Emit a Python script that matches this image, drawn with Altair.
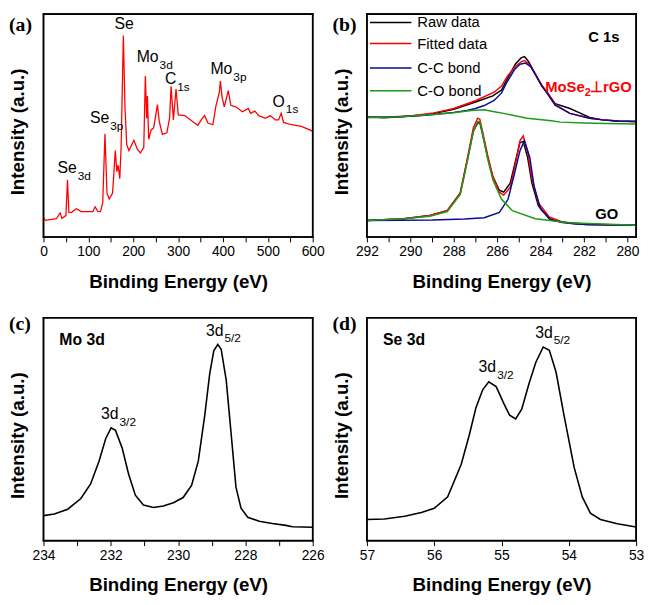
import altair as alt
import pandas as pd

FONT = "Liberation Sans"
W, H = 273, 226
YDOM = [0, 229]

# ---------------- Panel (a): survey spectrum ----------------
a_E = [0, 4, 29, 37, 41, 50, 53.5, 56.5, 62, 73, 84, 110, 115, 121, 127, 132, 137, 141.5, 146.5,
       154, 160, 163.5, 166.4, 170, 173, 178, 181.7, 185.5, 190.5, 201.5, 209, 216, 223.5, 227, 230,
       231.6, 234.5, 240, 245.5, 254, 258, 265, 275, 281, 284.4, 289.5, 295.4, 300.4, 315, 330, 344,
       351.6, 359, 366.4, 377.4, 384.6, 392, 394.3, 398, 403, 411.8, 417.6, 428.6, 443.3, 456.5,
       461.6, 471, 480, 494.5, 505.5, 516.5, 524, 529.7, 535, 553, 575, 597, 600]
a_I = [20.3, 17, 18.7, 24.7, 19.3, 22, 58.7, 25.3, 25, 29, 26, 26, 31, 26.3, 26, 35, 106, 45, 39,
       45, 88.7, 67, 73.7, 60, 92, 207, 132, 95, 88.7, 99.3, 90.3, 86.3, 92, 165.3, 122,
       144.7, 100.3, 110, 112, 136, 118.7, 105.3, 107, 122, 154.7, 120.3, 152, 125.3, 124.7, 119.3, 114.7,
       120.3, 124.7, 117, 115.3, 135.3, 148.7, 160.3, 143.7, 133.7, 150.3, 135.3, 133.7, 128.7, 132,
       127, 129.3, 124.7, 122, 124.7, 120.3, 120.3, 127, 117.7, 115.3, 113.7, 109.3, 108]

a_lab_main = ["Se", "Se", "Mo", "C", "Mo", "O"]
a_lab_E = [74, 146.6, 256.5, 296, 421, 538]
a_lab_I = [71, 122, 185, 162, 172, 139]
a_lab_sub = ["3d", "3p", "3d", "1s", "3p", "1s"]
a_top_label = ["Se"]
a_top_E = [179.6]
a_top_I = [219]

# ---------------- Panel (b): C 1s ----------------
b_raw_top_E = [292, 291.2, 290.3, 289.1, 288.0, 287.0, 286.2, 285.8, 285.5, 285.15, 284.9, 284.74, 284.55,
               284.24, 283.94, 283.7, 283.33, 282.65, 282.2, 281.74, 281.14, 280.45, 279.6]
b_raw_top_I = [123.3, 122.5, 123.7, 126, 131.3, 138.7, 145, 151, 164, 178, 184, 185.3, 180,
               167, 155, 148.7, 137, 132, 127.5, 122.7, 120.3, 119, 118.7]
b_fit_top_E = [292, 291, 290, 289, 288, 287, 286.14, 285.8, 285.53, 285.15, 284.9, 284.74, 284.55,
               284.24, 283.94, 283.7, 283.33, 282.65, 281.74, 281.14, 280.4, 279.6]
b_fit_top_I = [123, 123.2, 124.2, 127, 132, 140, 148.7, 155, 165.3, 175.5, 180, 181.3, 178,
               167, 156, 148.7, 136, 127, 122, 120.3, 119.2, 118.7]
b_cc_top_E = [292, 290.5, 289.6, 288.8, 288.0, 287.4, 287.0, 286.6, 286.14, 285.8, 285.53, 285.2, 284.95,
              284.7, 284.45, 284.24, 283.94, 283.7, 283.33, 282.65, 281.74, 281.14, 280.4, 279.6]
b_cc_top_I = [122.7, 123.5, 124.5, 126, 128, 130, 132, 135, 140.3, 148, 160, 172, 177.5,
              178.7, 175, 167, 155, 147.5, 135.5, 127, 122, 120.3, 119.2, 118.7]
b_co_top_E = [292, 290.5, 289.6, 288.8, 288.0, 287.2, 286.6, 286.14, 285.7, 284.62, 283.5, 283.1, 282, 281, 279.6]
b_co_top_I = [122.7, 123.5, 124.7, 126, 127.7, 130, 130.7, 128.7, 127, 122, 119.5, 118, 117, 116.5, 116]

b_raw_bot_E = [292, 290.3, 289.1, 288.3, 287.7, 287.35, 287.1, 286.9, 286.8, 286.67, 286.44, 286.2, 285.9,
               285.7, 285.4, 285.15, 284.95, 284.8, 284.6, 284.4, 284.1, 283.6, 283.0, 281.9, 279.6]
b_raw_bot_I = [17, 18.7, 22, 27, 45.3, 82, 108.7, 117, 117.5, 105.3, 82, 62, 48,
               46, 55.3, 78.7, 97, 98, 82, 55.3, 32, 18.7, 14.7, 12.7, 12]
b_fit_bot_E = [292, 290.3, 289.1, 288.3, 287.7, 287.35, 287.1, 286.9, 286.8, 286.67, 286.44, 286.2, 285.9,
               285.7, 285.4, 285.15, 284.95, 284.8, 284.6, 284.4, 284.1, 283.6, 283.0, 281.9, 279.6]
b_fit_bot_I = [17, 18.7, 22, 27, 45, 83, 112, 122, 121, 108, 84, 62, 46,
               43, 51, 76, 99, 103.7, 88, 60, 35, 20.5, 15.5, 13, 12]
b_cc_bot_E = [292, 289, 287.5, 286.6, 285.9, 285.5, 285.2, 284.95, 284.75, 284.5, 284.3, 284.0, 283.5,
              282.5, 281.9, 279.6]
b_cc_bot_I = [17, 17.5, 18.5, 19.7, 25.3, 38.7, 65.3, 88.7, 99, 82, 52, 28.7, 17, 13.5, 12.7, 12]
b_co_bot_E = [292, 290.3, 289.1, 288.3, 287.7, 287.35, 287.1, 286.9, 286.8, 286.67, 286.44, 286.2, 285.8,
              285.3, 284.24, 282.7, 279.6]
b_co_bot_I = [17, 18.7, 21.3, 26, 43.7, 80.3, 108, 118.7, 118.5, 106, 80.3, 58.7, 38.7, 27, 18.7, 14.7, 12]

b_series = ["Raw data", "Fitted data", "C-C bond", "C-O bond"]
b_colors = ["#000000", "#ff0000", "#0a0a96", "#1a9c1a"]
b_leg_I = [220.3, 198.7, 173.7, 150.3]
b_leg_E1, b_leg_E2, b_leg_text_E = 291.86, 289.95, 289.68

# ---------------- Panel (c): Mo 3d ----------------
c_E = [234.0, 233.68, 233.28, 232.89, 232.6, 232.35, 232.15, 231.99, 231.86, 231.66, 231.47, 231.27, 231.03,
       230.73, 230.44, 230.14, 229.85, 229.6, 229.4, 229.21, 229.06, 228.94, 228.82, 228.72, 228.57, 228.42,
       228.28, 228.13, 227.93, 227.59, 227.2, 226.8, 226.6, 226.0]
c_I = [25.7, 27.3, 32.3, 43.3, 58.3, 81.7, 105, 116, 113.3, 95, 68.3, 46.7, 36.7,
       34, 35.7, 39, 44.3, 56.7, 81.7, 128.3, 171.7, 195, 201.7, 196.7, 165, 108.3,
       55, 33.3, 24, 20, 17.7, 15.7, 14.3, 13.7]

# ---------------- Panel (d): Se 3d ----------------
d_E = [57.0, 56.74, 56.44, 56.19, 56.0, 55.8, 55.6, 55.48, 55.38, 55.28, 55.19, 55.08, 54.96, 54.88, 54.79,
       54.7, 54.59, 54.49, 54.38, 54.29, 54.19, 54.07, 53.92, 53.8, 53.68, 53.53, 53.28, 53.0]
d_I = [21.7, 22.3, 25, 29, 33.3, 45, 78.3, 108.3, 136.7, 155, 163.3, 158.3, 140, 129, 125,
       135, 161.7, 183.3, 199, 195.7, 173.3, 128.3, 75, 45, 28.3, 21.7, 17.3, 14]


def xaxis(values, expr):
    return alt.Axis(values=values, labelExpr=expr, format="d", title="Binding Energy (eV)",
                    tickSize=5, tickColor="black", tickWidth=1, labelFontSize=14, labelFont=FONT,
                    labelColor="black", labelPadding=3, labelFlush=False, labelOverlap=False,
                    labelBound=False, domain=False, grid=False,
                    titleFont=FONT, titleFontSize=19,
                    titleFontWeight="bold", titleColor="black", titleY=45, titleBaseline="middle")


YAX = alt.Axis(title="Intensity (a.u.)", labels=False, ticks=False, domain=False, grid=False,
               titleFont=FONT, titleFontSize=19, titleFontWeight="bold", titleColor="black",
               titleX=-26, titleY=H / 2 + 6, titleBaseline="middle", titleAlign="center", titleAngle=-90)


def make_enc(dom, rev, values, expr):
    sc = alt.Scale(domain=dom, reverse=rev, nice=False, zero=False)
    ax = xaxis(values, expr)
    X = lambda f: alt.X(f"{f}:Q", scale=sc, axis=ax)
    Y = lambda f: alt.Y(f"{f}:Q", scale=alt.Scale(domain=YDOM, nice=False, zero=False), axis=YAX)
    return X, Y


def texts(X, Y, labels, Es, Is, size, align="left", weight="normal", color="black", font=FONT, dx=0):
    df = pd.DataFrame({"E": Es, "I": Is, "t": labels})
    return alt.Chart(df).mark_text(font=font, fontSize=size, align=align, baseline="middle",
                                   fontWeight=weight, color=color, dx=dx).encode(
        x=X("E"), y=Y("I"), text="t:N")


def panel_label(text, yoff):
    df = pd.DataFrame({"t": [text]})
    return alt.Chart(df).mark_text(font="Liberation Serif", fontSize=20, fontWeight="bold",
                                   align="left", baseline="middle", color="black").encode(
        x=alt.value(-35), y=alt.value(yoff), text="t:N")


def frame_bars():
    # panel frame drawn as four thin filled bars along the plot edges
    t = 0.8
    df = pd.DataFrame({"k": [0]})
    sides = [(-t, W + t, -t, t), (-t, W + t, H - t, H + t), (-t, t, -t, H + t), (W - t, W + t, -t, H + t)]
    return [alt.Chart(df).mark_rect(color="black", opacity=1).encode(
        x=alt.value(x0), x2=alt.value(x1), y=alt.value(y0), y2=alt.value(y1)) for x0, x1, y0, y1 in sides]


# ---- panel a ----
dom_a = [0, 600]
Xa, Ya = make_enc(dom_a, False, list(range(0, 601, 50)), "datum.value % 100 === 0 ? datum.label : ''")
df_a = pd.DataFrame({"E": a_E, "I": a_I})
pa = alt.layer(
    alt.Chart(df_a).mark_line(color="#ff0000", strokeWidth=1.3, clip=True).encode(x=Xa("E"), y=Ya("I")),
    texts(Xa, Ya, a_lab_main, a_lab_E, a_lab_I, 16, align="right"),
    texts(Xa, Ya, a_lab_sub, a_lab_E, [v - 8 for v in a_lab_I], 12, align="left", dx=1),
    texts(Xa, Ya, a_top_label, a_top_E, a_top_I, 16, align="center"),
    panel_label("(a)", 11),
    *frame_bars(),
).properties(width=W, height=H)

# ---- panel b ----
dom_b = [279.6, 292]
Xb, Yb = make_enc(dom_b, True, list(range(280, 293)), "datum.value % 2 === 0 ? datum.label : ''")
rows = []
for s, grp, Es, Is in [
    ("Raw data", "top", b_raw_top_E, b_raw_top_I), ("Fitted data", "top", b_fit_top_E, b_fit_top_I),
    ("C-C bond", "top", b_cc_top_E, b_cc_top_I), ("C-O bond", "top", b_co_top_E, b_co_top_I),
    ("Raw data", "bot", b_raw_bot_E, b_raw_bot_I), ("Fitted data", "bot", b_fit_bot_E, b_fit_bot_I),
    ("C-C bond", "bot", b_cc_bot_E, b_cc_bot_I), ("C-O bond", "bot", b_co_bot_E, b_co_bot_I)]:
    for e, i in zip(Es, Is):
        rows.append({"E": e, "I": i, "s": s, "g": s + grp})
df_b = pd.DataFrame(rows)
col = alt.Color("s:N", scale=alt.Scale(domain=b_series, range=b_colors), legend=None)
df_leg = pd.DataFrame({"E1": [b_leg_E1] * 4, "E2": [b_leg_E2] * 4, "I": b_leg_I, "s": b_series})
pb = alt.layer(
    alt.Chart(df_b).mark_line(strokeWidth=1.5, clip=True).encode(x=Xb("E"), y=Yb("I"), color=col, detail="g:N"),
    alt.Chart(df_leg).mark_rule(strokeWidth=1.5).encode(x=Xb("E1"), x2="E2", y=Yb("I"), color=col),
    texts(Xb, Yb, b_series, [b_leg_text_E] * 4, b_leg_I, 15),
    texts(Xb, Yb, ["C 1s"], [281.09], [205.3], 15, align="center", weight="bold"),
    texts(Xb, Yb, ["GO"], [280.95], [23.7], 15, align="center", weight="bold"),
    texts(Xb, Yb, ["MoSe"], [281.97], [153.7], 15, align="right", weight="bold", color="#ff0000"),
    texts(Xb, Yb, ["2"], [281.97], [148], 11, align="left", weight="bold", color="#ff0000"),
    texts(Xb, Yb, ["⊥rGO"], [281.72], [153.7], 15, align="left", weight="bold", color="#ff0000"),
    panel_label("(b)", 11),
    *frame_bars(),
).properties(width=W, height=H)

# ---- panel c ----
dom_c = [226, 234]
Xc, Yc = make_enc(dom_c, True, list(range(226, 235)), "datum.value % 2 === 0 ? datum.label : ''")
df_c = pd.DataFrame({"E": c_E, "I": c_I})
pc = alt.layer(
    alt.Chart(df_c).mark_line(color="black", strokeWidth=1.6, clip=True).encode(x=Xc("E"), y=Yc("I")),
    texts(Xc, Yc, ["Mo 3d"], [233.53], [206], 16, weight="bold"),
    texts(Xc, Yc, ["3d", "3d"], [231.77, 228.65], [130, 215], 16, align="right"),
    texts(Xc, Yc, ["3/2", "5/2"], [231.77, 228.65], [122, 208], 12, align="left", dx=1),
    panel_label("(c)", 6),
    *frame_bars(),
).properties(width=W, height=H)

# ---- panel d ----
dom_d = [53, 57]
Xd, Yd = make_enc(dom_d, True, [53, 53.5, 54, 54.5, 55, 55.5, 56, 56.5, 57],
                  "datum.value % 1 === 0 ? datum.label : ''")
df_d = pd.DataFrame({"E": d_E, "I": d_I})
pd_ = alt.layer(
    alt.Chart(df_d).mark_line(color="black", strokeWidth=1.6, clip=True).encode(x=Xd("E"), y=Yd("I")),
    texts(Xd, Yd, ["Se 3d"], [56.76], [206], 16, weight="bold"),
    texts(Xd, Yd, ["3d", "3d"], [55.08, 54.24], [178.3, 213.3], 16, align="right"),
    texts(Xd, Yd, ["3/2", "5/2"], [55.08, 54.24], [170, 206], 12, align="left", dx=1),
    panel_label("(d)", 6),
    *frame_bars(),
).properties(width=W, height=H)

chart = alt.concat(pa, pb, pc, pd_, columns=2, spacing={"row": 82, "column": 55}, bounds="flush").properties(
    padding=0, background="white"
).configure_view(stroke="black", strokeWidth=1.5)

chart.save("out.html", embed_options={"renderer": "svg", "actions": False})
